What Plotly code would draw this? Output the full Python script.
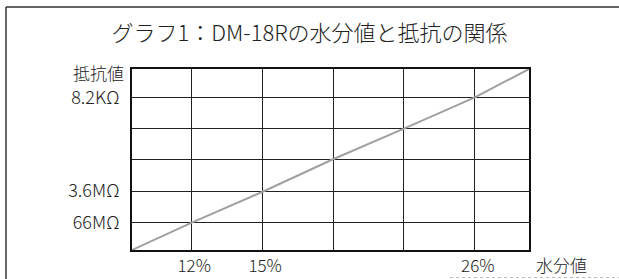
import plotly.graph_objects as go

# ---- data (grid units) ----
x_grid = [1, 2, 3, 4, 5]
x_ticktext = ["12%", "15%", "", "", "26%"]
y_grid = [1, 2, 3, 4, 5]
y_ticktext = ["66MΩ", "3.6MΩ", "", "", "8.2KΩ"]

# moisture / resistance relation, in grid units (straight line corner to corner)
line_x = [0.165, 1, 2, 3, 4, 5, 5.764]
line_y = [0.111, 0.98, 1.97, 3.02, 4.0, 5.0, 5.912]

x_range = [0.165, 5.764]
y_range = [0.111, 5.912]

title_text = "グラフ1：DM-18Rの水分値と抵抗の関係"
y_title = "抵抗値"
x_title = "水分値"

FONT = "Noto Sans CJK JP, Noto Sans, sans-serif"

W, H = 619, 279
ML, MR, MT, MB = 132, 90, 69, 29
PW, PH = W - ML - MR, H - MT - MB


def px(x):
    return (x - ML) / PW


def py(y):
    return (H - MB - y) / PH


fig = go.Figure()
fig.add_trace(go.Scatter(
    x=line_x, y=line_y, mode="lines",
    line=dict(color="#a0a0a0", width=2),
    hoverinfo="skip", showlegend=False,
))

fig.update_layout(
    width=W, height=H,
    margin=dict(l=ML, r=MR, t=MT, b=MB, autoexpand=False),
    paper_bgcolor="white", plot_bgcolor="white",
    font=dict(family=FONT, color="#222", size=15),
    showlegend=False,
    title=dict(text=title_text, x=0.5, xanchor="center", y=1 - 33 / H,
               yanchor="middle", font=dict(size=22, color="#222", family=FONT, weight=300)),
    xaxis=dict(
        range=x_range, tickmode="array", tickvals=x_grid, ticktext=x_ticktext,
        showgrid=True, gridcolor="#222", gridwidth=1, zeroline=False,
        showline=True, linecolor="#111", linewidth=2, mirror=True,
        ticks="", ticklabelstandoff=0, ticklabelshift=3, automargin=False,
        tickfont=dict(size=17, color="#222", family=FONT, weight=300),
    ),
    yaxis=dict(
        range=y_range, tickmode="array", tickvals=y_grid, ticktext=y_ticktext,
        showgrid=True, gridcolor="#222", gridwidth=1, zeroline=False,
        showline=True, linecolor="#111", linewidth=2, mirror=True,
        ticks="outside", ticklen=7, tickcolor="rgba(0,0,0,0)", automargin=False,
        tickfont=dict(size=18, color="#222", family=FONT, weight=300),
    ),
    annotations=[
        dict(text=y_title, xref="paper", yref="paper", x=px(126), y=py(72.5),
             xanchor="right", yanchor="middle", showarrow=False,
             font=dict(size=17, color="#222", family=FONT, weight=300)),
        dict(text=x_title, xref="paper", yref="paper", x=px(561), y=py(264),
             xanchor="center", yanchor="middle", showarrow=False,
             font=dict(size=17, color="#222", family=FONT, weight=300)),
    ],
    shapes=[
        dict(type="line", xref="paper", yref="paper", x0=px(6), x1=px(6),
             y0=py(7), y1=py(285), line=dict(color="#333", width=1.5)),
        dict(type="line", xref="paper", yref="paper", x0=px(6), x1=px(640),
             y0=py(7), y1=py(7), line=dict(color="#333", width=1.5)),
        dict(type="line", xref="paper", yref="paper", x0=px(450), x1=px(640),
             y0=py(277.5), y1=py(277.5), line=dict(color="#bbb", width=1, dash="dot")),
    ],
)

fig.write_html("out.html", config={"displayModeBar": False},
               post_script="document.body.style.margin='0';document.body.style.overflow='hidden';")
